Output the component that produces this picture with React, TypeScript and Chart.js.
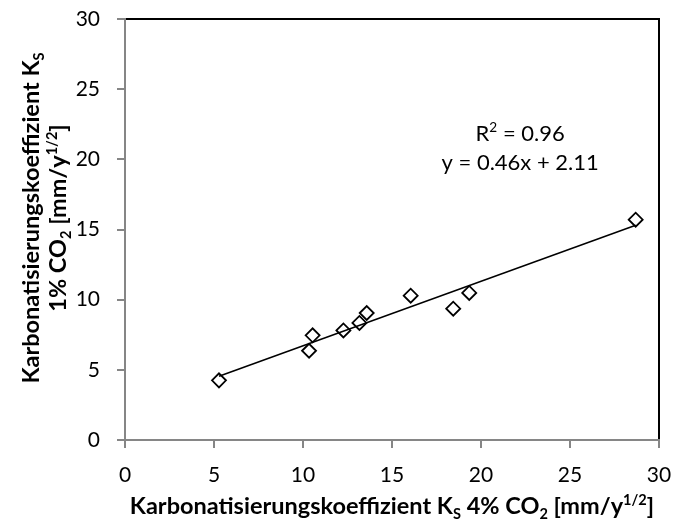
import { useEffect, useRef } from "react";
import { Chart, registerables } from "chart.js";

Chart.register(...registerables);

// Carbonation coefficients K_S [mm/y^(1/2)] per specimen
const kS4Percent = [5.28, 10.34, 10.54, 12.27, 13.17, 13.58, 16.05, 18.44, 19.34, 28.69];
const kS1Percent = [4.25, 6.36, 7.46, 7.81, 8.34, 9.05, 10.28, 9.36, 10.48, 15.7];

// Linear regression reported in the chart
const fitSlope = 0.46;
const fitIntercept = 2.11;
const fitR2 = 0.96;

const axisMin = 0;
const axisMax = 30;
const axisStep = 5;

type Seg = { t: string; m?: "sub" | "sup" };

const xTitle: Seg[] = [
  { t: "Karbonatisierungskoeffizient K" },
  { t: "S", m: "sub" },
  { t: " 4% CO" },
  { t: "2", m: "sub" },
  { t: " [mm/y" },
  { t: "1/2", m: "sup" },
  { t: "]" },
];
const yTitleLine1: Seg[] = [{ t: "Karbonatisierungskoeffizient K" }, { t: "S", m: "sub" }];
const yTitleLine2: Seg[] = [
  { t: "1% CO" },
  { t: "2", m: "sub" },
  { t: " [mm/y" },
  { t: "1/2", m: "sup" },
  { t: "]" },
];
const r2Label: Seg[] = [{ t: "R" }, { t: "2", m: "sup" }, { t: ` = ${fitR2.toFixed(2)}` }];
const equationLabel = `y = ${fitSlope}x + ${fitIntercept}`;

const FAMILY = "Lato, 'Noto Sans', sans-serif";
const GREY = "#868686";
const TITLE_SIZE = 23.5;

function segFont(seg: Seg, size: number, weight: string) {
  const sz = seg.m ? size * 0.62 : size;
  return `${weight} ${sz}px ${FAMILY}`;
}

function drawRich(
  ctx: CanvasRenderingContext2D,
  segs: Seg[],
  cx: number,
  baseline: number,
  size: number,
  weight: string
) {
  const widths = segs.map((s) => {
    ctx.font = segFont(s, size, weight);
    return ctx.measureText(s.t).width;
  });
  const total = widths.reduce((a, b) => a + b, 0);
  let x = cx - total / 2;
  ctx.textAlign = "left";
  ctx.textBaseline = "alphabetic";
  segs.forEach((s, i) => {
    ctx.font = segFont(s, size, weight);
    const dy = s.m === "sub" ? size * 0.2 : s.m === "sup" ? -size * 0.38 : 0;
    ctx.fillText(s.t, x, baseline + dy);
    x += widths[i];
  });
}

const plotFrame = {
  id: "plotFrame",
  beforeDraw(chart: Chart) {
    const { ctx, chartArea: a } = chart;
    ctx.save();
    ctx.strokeStyle = "#000";
    ctx.lineWidth = 2;
    ctx.strokeRect(a.left, a.top, a.right - a.left, a.bottom - a.top);
    ctx.restore();
  },
};

const richTitles = {
  id: "richTitles",
  afterDraw(chart: Chart) {
    const { ctx, chartArea: a } = chart;
    const xs = chart.scales.x;
    const ys = chart.scales.y;
    ctx.save();
    ctx.fillStyle = "#000";

    // x-axis title
    drawRich(ctx, xTitle, (a.left + a.right) / 2, a.bottom + 74, TITLE_SIZE, "bold");

    // y-axis title, two rotated lines
    const cy = a.top + 199;
    ctx.save();
    ctx.translate(a.left - 86, cy);
    ctx.rotate(-Math.PI / 2);
    drawRich(ctx, yTitleLine1, 0, 0, TITLE_SIZE, "bold");
    ctx.restore();
    ctx.save();
    ctx.translate(a.left - 59, cy);
    ctx.rotate(-Math.PI / 2);
    drawRich(ctx, yTitleLine2, 0, 0, TITLE_SIZE, "bold");
    ctx.restore();

    // regression annotation
    const ax = xs.getPixelForValue(22.2);
    drawRich(ctx, r2Label, ax, ys.getPixelForValue(21.9) + 8, 22, "normal");
    ctx.font = `22px ${FAMILY}`;
    ctx.textAlign = "center";
    ctx.textBaseline = "middle";
    ctx.fillText(equationLabel, ax, ys.getPixelForValue(19.76));
    ctx.restore();
  },
};

function clearScalePadding(scale: any) {
  scale.paddingTop = 0;
  scale.paddingBottom = 0;
  scale.paddingLeft = 0;
  scale.paddingRight = 0;
}

export default function App() {
  const canvasRef = useRef<HTMLCanvasElement | null>(null);

  useEffect(() => {
    const canvas = canvasRef.current;
    if (!canvas) return;

    const points = kS4Percent.map((x, i) => ({ x, y: kS1Percent[i] }));
    const xLo = Math.min(...kS4Percent);
    const xHi = Math.max(...kS4Percent);
    const trend = [xLo, xHi].map((x) => ({ x, y: fitSlope * x + fitIntercept }));

    const tickFont = { family: FAMILY, size: 21 };

    const chart = new Chart(canvas, {
      type: "scatter",
      data: {
        datasets: [
          {
            label: "Messwerte",
            data: points,
            pointStyle: "rectRot",
            pointRadius: 7,
            pointBorderWidth: 1.8,
            borderColor: "#000",
            backgroundColor: "rgba(0,0,0,0)",
          },
          {
            label: "Trend",
            data: trend,
            showLine: true,
            borderColor: "#000",
            borderWidth: 1.5,
            pointRadius: 0,
          },
        ],
      },
      options: {
        animation: false,
        responsive: false,
        devicePixelRatio: 1,
        layout: { padding: { left: 0, top: 19, right: 14, bottom: 40 } },
        plugins: { legend: { display: false }, tooltip: { enabled: false } },
        scales: {
          x: {
            type: "linear",
            min: axisMin,
            max: axisMax,
            ticks: { stepSize: axisStep, padding: 15, color: "#000", font: tickFont },
            grid: { drawOnChartArea: false, drawTicks: true, tickLength: 8, color: GREY, lineWidth: 2 },
            border: { display: true, color: GREY, width: 2 },
            afterFit(scale: any) {
              scale.height = 45;
              clearScalePadding(scale);
            },
          },
          y: {
            type: "linear",
            min: axisMin,
            max: axisMax,
            ticks: { stepSize: axisStep, padding: 17, color: "#000", font: tickFont },
            grid: { drawOnChartArea: false, drawTicks: true, tickLength: 8, color: GREY, lineWidth: 2 },
            border: { display: true, color: GREY, width: 2 },
            afterFit(scale: any) {
              scale.width = 125;
              clearScalePadding(scale);
            },
          },
        },
      },
      plugins: [plotFrame, richTitles],
    });

    return () => chart.destroy();
  }, []);

  return (
    <div style={{ position: "absolute", left: 0, top: 0, width: 673, height: 525, background: "#fff" }}>
      <canvas ref={canvasRef} width={673} height={525} style={{ display: "block" }} />
    </div>
  );
}
